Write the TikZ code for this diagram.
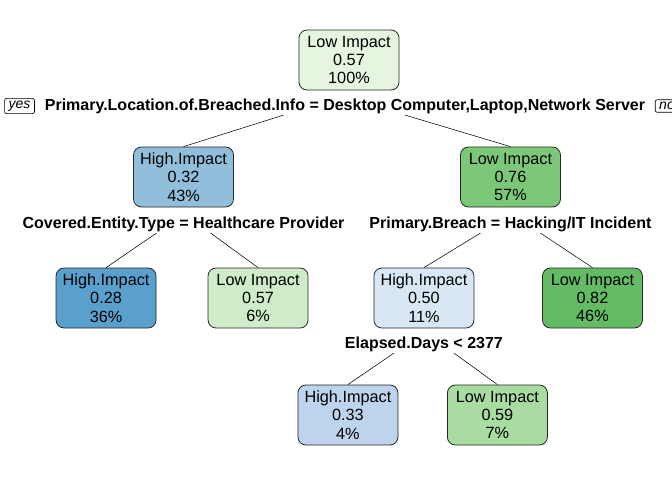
\documentclass[tikz,border=0pt]{standalone}
\usepackage{fontspec}
\setmainfont{Liberation Sans}
\usetikzlibrary{positioning}

\definecolor{low57}{RGB}{229,245,224}
\definecolor{hi32}{RGB}{145,191,219}
\definecolor{low76}{RGB}{123,200,120}
\definecolor{hi28}{RGB}{90,160,205}
\definecolor{low57b}{RGB}{205,236,199}
\definecolor{hi50}{RGB}{217,231,244}
\definecolor{low82}{RGB}{99,187,99}
\definecolor{hi33}{RGB}{189,212,236}
\definecolor{low59}{RGB}{168,220,160}

\tikzset{
  impact/.style={draw=black!85, line width=0.6pt, rounded corners=6pt, align=center,
    minimum width=75pt, minimum height=45pt, inner sep=2pt,
    font=\fontsize{12.2}{13.7}\selectfont},
  rule/.style={font=\bfseries\fontsize{12}{13.7}\selectfont, inner sep=1pt},
  tag/.style={draw, line width=0.5pt, rounded corners=1.5pt, inner xsep=3pt, inner ysep=1.8pt,
    font=\itshape\fontsize{10.5}{11}\selectfont}
}

\begin{document}
\begin{tikzpicture}[x=0.75pt,y=-0.75pt]
  \useasboundingbox (0,0) rectangle (672,480);
  \clip (0,0) rectangle (672,480);

  \node [impact,fill=low57] (0) at (349,60) {Low Impact\\0.57\\100\%};
  \node [rule,node distance=34.5pt,below of=0,xshift=-3pt] (0s) {Primary.Location.of.Breached.Info = Desktop Computer,Laptop,Network Server};
  \node [tag,node distance=244.1pt,left of=0s] (yes) {yes};
  \node [tag,node distance=241.5pt,right of=0s] (no) {no};

  \node [impact,fill=hi32,node distance=87.75pt,below of=0,xshift=-124.1pt] (1) {High.Impact\\0.32\\43\%};
  \node [impact,fill=low76,node distance=87.75pt,below of=0,xshift=121.1pt] (2) {Low Impact\\0.76\\57\%};
  \node [rule,node distance=35.25pt,below of=1] (1s) {Covered.Entity.Type = Healthcare Provider};
  \node [rule,node distance=35.25pt,below of=2] (2s) {Primary.Breach = Hacking/IT Incident};

  \node [impact,fill=hi28,node distance=90.75pt,below of=1,xshift=-58.1pt] (3) {High.Impact\\0.28\\36\%};
  \node [impact,fill=low57b,node distance=90.75pt,below of=1,xshift=55.9pt] (4) {Low Impact\\0.57\\6\%};
  \node [impact,fill=hi50,node distance=90.75pt,below of=2,xshift=-64.9pt] (5) {High.Impact\\0.50\\11\%};
  \node [impact,fill=low82,node distance=90.75pt,below of=2,xshift=61.5pt] (6) {Low Impact\\0.82\\46\%};
  \node [rule,node distance=34.5pt,below of=5] (5s) {Elapsed.Days < 2377};

  \node [impact,fill=hi33,node distance=87.75pt,below of=5,xshift=-57pt] (7) {High.Impact\\0.33\\4\%};
  \node [impact,fill=low59,node distance=87.75pt,below of=5,xshift=55.1pt] (8) {Low Impact\\0.59\\7\%};

  \draw ([xshift=-46pt]0s.south) -- (1.north);
  \draw ([xshift=45pt]0s.south) -- (2.north);
  \draw ([xshift=-20.25pt]1s.south) -- (3.north);
  \draw ([xshift=20.25pt]1s.south) -- (4.north);
  \draw ([xshift=-22.5pt]2s.south) -- (5.north);
  \draw ([xshift=22.5pt]2s.south) -- (6.north);
  \draw ([xshift=-22.5pt]5s.south) -- (7.north);
  \draw ([xshift=22.5pt]5s.south) -- (8.north);
\end{tikzpicture}
\end{document}
